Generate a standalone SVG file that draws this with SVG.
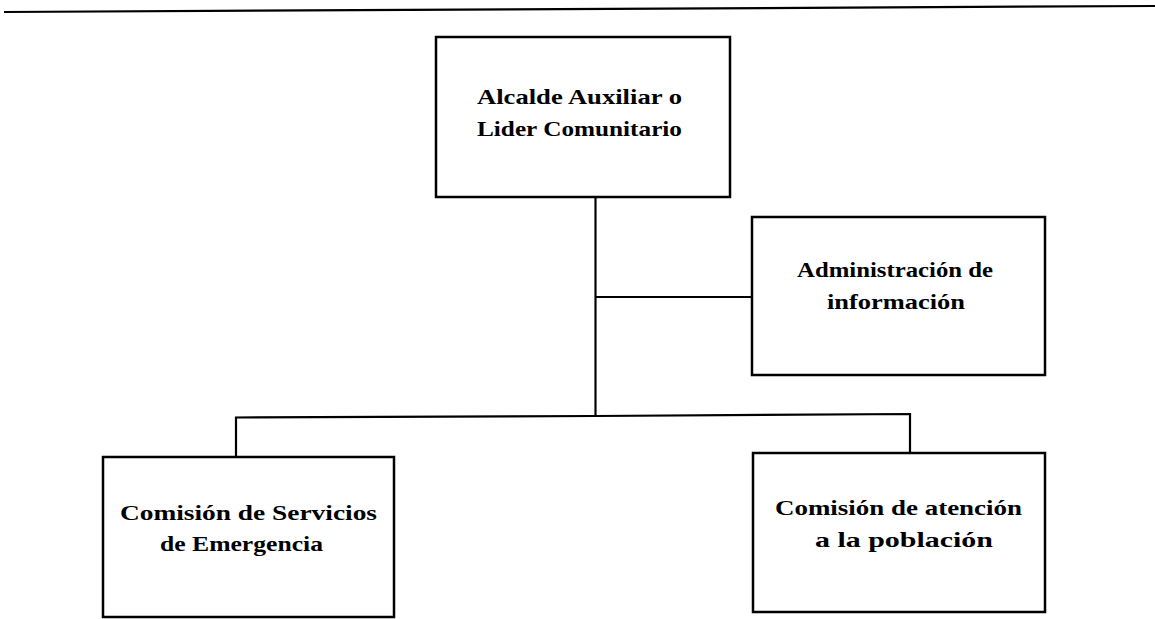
<svg xmlns="http://www.w3.org/2000/svg" width="1155" height="619" viewBox="0 0 1155 619">
<style>
.box{fill:#fff;stroke:#000;stroke-width:2.5}
.ln{fill:none;stroke:#000;stroke-width:2.2}
.t{font-family:"Liberation Serif","Times New Roman",serif;font-weight:bold;font-size:21px;fill:#000;text-anchor:middle}
</style>
<rect width="1155" height="619" fill="#fff"/>
<line class="ln" x1="4" y1="12" x2="1155" y2="6"/>
<g id="connectors">
<line class="ln" x1="595.5" y1="197" x2="595.5" y2="416"/>
<line class="ln" x1="595.5" y1="297" x2="752" y2="297"/>
<polyline class="ln" points="236,457 236,417.5 595.5,416 910,414 910,453"/>
</g>
<g id="n1">
<rect class="box" x="436" y="37" width="294" height="160"/>
<text class="t" x="579.5" y="104" textLength="205" lengthAdjust="spacingAndGlyphs">Alcalde Auxiliar o</text>
<text class="t" x="579.5" y="136" textLength="205" lengthAdjust="spacingAndGlyphs">Lider Comunitario</text>
</g>
<g id="n2">
<rect class="box" x="752" y="217" width="293" height="158"/>
<text class="t" x="895" y="277" textLength="196" lengthAdjust="spacingAndGlyphs">Administración de</text>
<text class="t" x="896" y="309" textLength="138" lengthAdjust="spacingAndGlyphs">información</text>
</g>
<g id="n3">
<rect class="box" x="103" y="457" width="291" height="160"/>
<text class="t" x="248.5" y="520" textLength="257" lengthAdjust="spacingAndGlyphs">Comisión de Servicios</text>
<text class="t" x="241.5" y="551" textLength="163" lengthAdjust="spacingAndGlyphs">de Emergencia</text>
</g>
<g id="n4">
<rect class="box" x="753" y="453" width="292" height="159"/>
<text class="t" x="898.5" y="515" textLength="247" lengthAdjust="spacingAndGlyphs">Comisión de atención</text>
<text class="t" x="904" y="547" textLength="178" lengthAdjust="spacingAndGlyphs">a la población</text>
</g>
</svg>
